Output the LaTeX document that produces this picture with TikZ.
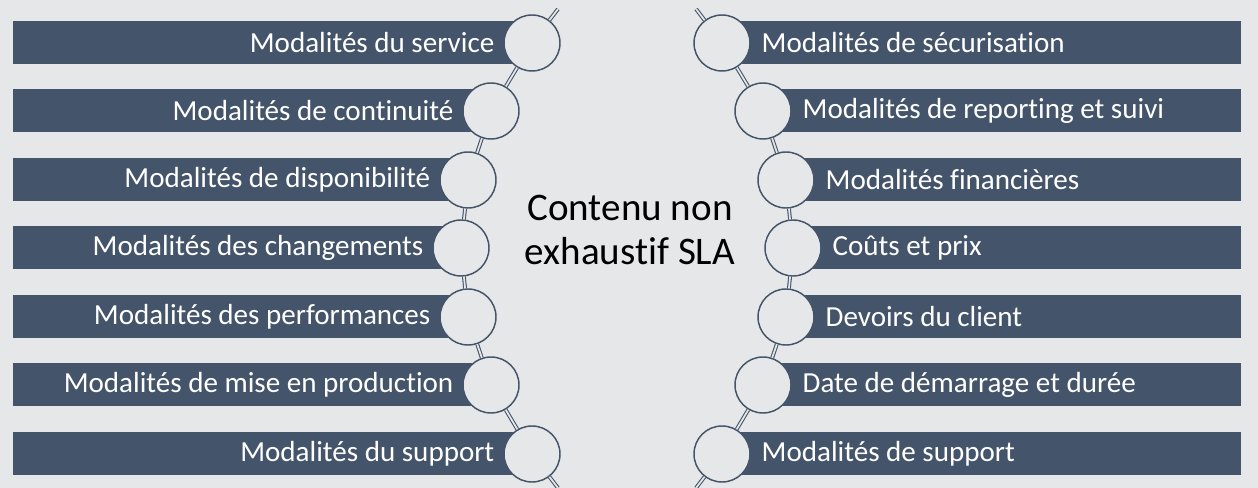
\documentclass[tikz,border=0pt]{standalone}
\usepackage{fontspec}
\setmainfont{Carlito}[Ligatures=NoCommon]
\definecolor{ardoise}{HTML}{44546A}
\definecolor{fond}{HTML}{E6E7E8}

\begin{document}
\begin{tikzpicture}[x=0.75pt, y=-0.75pt,
    barre/.style={fill=ardoise},
    rond/.style={circle, draw=ardoise, fill=fond, line width=1.1pt, minimum size=42pt, inner sep=0pt},
    lien/.style={draw=ardoise, double=fond, double distance=1.3pt, line width=0.8pt},
    txt/.style={text=white, inner sep=0pt, font=\fontsize{21.8}{24}\selectfont}
]
\useasboundingbox (0,0) rectangle (1258,488);
\fill[fond] (0,0) rectangle (1258,488);

% -------- Barres gauches --------
\fill[barre] (13,21.5) rectangle (532,64.5);
\fill[barre] (13,89.5) rectangle (491,132.5);
\fill[barre] (13,158.5) rectangle (468,201.5);
\fill[barre] (13,226.5) rectangle (461,269.5);
\fill[barre] (13,295.5) rectangle (468,338.5);
\fill[barre] (13,363.5) rectangle (491,406.5);
\fill[barre] (13,432.5) rectangle (532,475.5);

% -------- Barres droites --------
\fill[barre] (722,21.5) rectangle (1241,64.5);
\fill[barre] (763,89.5) rectangle (1241,132.5);
\fill[barre] (786,158.5) rectangle (1241,201.5);
\fill[barre] (793,226.5) rectangle (1241,269.5);
\fill[barre] (786,295.5) rectangle (1241,338.5);
\fill[barre] (763,363.5) rectangle (1241,406.5);
\fill[barre] (722,432.5) rectangle (1241,475.5);

% -------- Cercles gauches --------
\node[rond] (g1) at (532,43) {};
\node[rond] (g2) at (491,111) {};
\node[rond] (g3) at (468,180) {};
\node[rond] (g4) at (461,248) {};
\node[rond] (g5) at (468,317) {};
\node[rond] (g6) at (491,385) {};
\node[rond] (g7) at (532,454) {};

% -------- Cercles droits --------
\node[rond] (d1) at (722,43) {};
\node[rond] (d2) at (763,111) {};
\node[rond] (d3) at (786,180) {};
\node[rond] (d4) at (793,248) {};
\node[rond] (d5) at (786,317) {};
\node[rond] (d6) at (763,385) {};
\node[rond] (d7) at (722,454) {};

% bouts de chaîne hors cadre
\coordinate (gh) at (558,9);
\coordinate (gb) at (558,488);
\coordinate (dh) at (696,9);
\coordinate (db) at (696,488);

% Chaîne gauche
\draw[lien] (gh) -- (g1);
\draw[lien] (g1) -- (g2);
\draw[lien] (g2) -- (g3);
\draw[lien] (g3) -- (g4);
\draw[lien] (g4) -- (g5);
\draw[lien] (g5) -- (g6);
\draw[lien] (g6) -- (g7);
\draw[lien] (g7) -- (gb);

% Chaîne droite
\draw[lien] (dh) -- (d1);
\draw[lien] (d1) -- (d2);
\draw[lien] (d2) -- (d3);
\draw[lien] (d3) -- (d4);
\draw[lien] (d4) -- (d5);
\draw[lien] (d5) -- (d6);
\draw[lien] (d6) -- (d7);
\draw[lien] (d7) -- (db);

% -------- Textes --------
\node[txt, anchor=east] (tg1) at ([xshift=-6.5pt]g1.west) {Modalités du service};
\node[txt, anchor=east] (tg2) at ([xshift=-6.5pt]g2.west) {Modalités de continuité};
\node[txt, anchor=east] (tg3) at ([xshift=-6.5pt]g3.west) {Modalités de disponibilité};
\node[txt, anchor=east] (tg4) at ([xshift=-6.5pt]g4.west) {Modalités des changements};
\node[txt, anchor=east] (tg5) at ([xshift=-6.5pt]g5.west) {Modalités des performances};
\node[txt, anchor=east] (tg6) at ([xshift=-6.5pt]g6.west) {Modalités de mise en production};
\node[txt, anchor=east] (tg7) at ([xshift=-6.5pt]g7.west) {Modalités du support};

\node[txt, anchor=west] (td1) at ([xshift=8pt]d1.east) {Modalités de sécurisation};
\node[txt, anchor=west] (td2) at ([xshift=8pt]d2.east) {Modalités de reporting et suivi};
\node[txt, anchor=west] (td3) at ([xshift=8pt]d3.east) {Modalités financières};
\node[txt, anchor=west] (td4) at ([xshift=8pt]d4.east) {Coûts et prix};
\node[txt, anchor=west] (td5) at ([xshift=8pt]d5.east) {Devoirs du client};
\node[txt, anchor=west] (td6) at ([xshift=8pt]d6.east) {Date de démarrage et durée};
\node[txt, anchor=west] (td7) at ([xshift=8pt]d7.east) {Modalités de support};

% titre central
\node[align=center, font=\fontsize{29.3}{33}\selectfont] (titre) at (630,230) {Contenu non\\exhaustif SLA};
\end{tikzpicture}
\end{document}
